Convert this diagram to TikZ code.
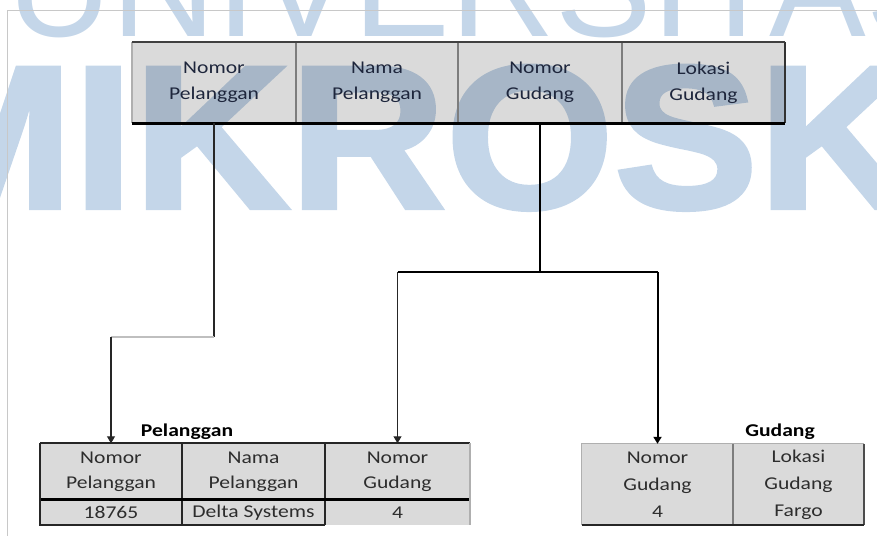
\documentclass[tikz,border=0pt]{standalone}
\usepackage{fontspec}
\setmainfont{Carlito}[FakeStretch=1.2]
\newfontfamily\wmfont{Liberation Sans}
\newfontfamily\wmboldfont{Liberation Sans Bold}[FakeStretch=1.06, FakeBold=2]
\usetikzlibrary{arrows.meta}
\definecolor{wmblue}{RGB}{196,214,233}
\definecolor{txttop}{RGB}{30,38,60}
\definecolor{txtbot}{RGB}{45,45,45}
\definecolor{framegray}{RGB}{200,200,200}
\definecolor{divgray}{RGB}{125,125,125}
\definecolor{lightedge}{RGB}{175,175,175}
\tikzset{
  wm/.style={inner sep=0pt, text=wmblue},
  cellbox/.style={fill=black, fill opacity=0.145, text opacity=1, draw=none, inner sep=0pt, align=center},
  topcell/.style={cellbox, minimum height=81pt, text=txttop, font=\fontsize{18}{26}\selectfont},
  pelcell/.style={cellbox, text=txtbot, font=\fontsize{18}{25}\selectfont},
  gudcell/.style={cellbox, minimum height=81pt, text=txtbot, font=\fontsize{18}{27}\selectfont},
  title/.style={inner sep=0pt, font=\fontsize{18}{22}\selectfont\bfseries, text=black},
  tip/.style={-{Triangle[length=7pt,width=8pt]}},
  thinline/.style={draw=black!85, line width=1.1pt},
  thickline/.style={draw=black, line width=2pt},
  fadeline/.style={draw=black!25, line width=1.2pt},
}
\begin{document}
\begin{tikzpicture}[x=1pt,y=-1pt]
\useasboundingbox (0,0) rectangle (877,536);
% watermark
\node[wm, font=\wmfont\fontsize{145}{145}\selectfont, anchor=base west] (w1) at (7,36) {UNIVERSITAS};
\node[wm, font=\wmboldfont\fontsize{204}{204}\selectfont, anchor=base west] (w2) at (-107,208) {MIKROSKIL};
% frame
\draw[framegray, line width=0.8pt] (877,10.5) -- (7.5,10.5) -- (7.5,536);
% top table
\node[topcell, minimum width=164pt] (t1) at (214,82.5) {Nomor\\Pelanggan};
\node[topcell, minimum width=162pt] (t2) at (377,82.5) {Nama\\Pelanggan};
\node[topcell, minimum width=164pt] (t3) at (540,82.5) {Nomor\\Gudang};
\node[topcell, minimum width=163pt] (t4) at (703.5,82.5) {Lokasi\\Gudang};
\draw[divgray, line width=1.5pt] (t1.north east) -- (t1.south east);
\draw[divgray, line width=1.5pt] (t2.north east) -- (t2.south east);
\draw[divgray, line width=1.5pt] (t3.north east) -- (t3.south east);
\draw[lightedge, line width=1.5pt] (t1.north west) -- (t1.south west);
\draw[black!80, line width=2pt] (t4.north east) -- (t4.south east);
\draw[black!75, line width=2pt] (t1.north west) -- (t4.north east);
\draw[black, line width=3pt] (t1.south west) -- (t4.south east);
% Pelanggan table
\node[title] (tp) at (187,432) {Pelanggan};
\node[pelcell, minimum width=142pt, minimum height=56pt] (p1) at (111,471.5) {Nomor\\Pelanggan};
\node[pelcell, minimum width=143pt, minimum height=56pt] (p2) at (253.5,471.5) {Nama\\Pelanggan};
\node[pelcell, minimum width=145pt, minimum height=56pt] (p3) at (397.5,471.5) {Nomor\\Gudang};
\node[pelcell, minimum width=142pt, minimum height=25pt] (p4) at (111,512.5) {18765};
\node[pelcell, minimum width=143pt, minimum height=25pt] (p5) at (253.5,512.5) {Delta Systems};
\node[pelcell, minimum width=145pt, minimum height=25pt] (p6) at (397.5,512.5) {4};
\draw[black!85, line width=1.5pt] (p1.north east) -- (p4.south east);
\draw[black!85, line width=1.5pt] (p2.north east) -- (p5.south east);
\draw[black, line width=2.5pt] (p1.south west) -- (p3.south east);
\draw[black!85, line width=2pt] (p1.north west) -- (p3.north east);
\draw[black!85, line width=2pt] (p1.north west) -- (p4.south west) -- (p5.south east);
\draw[lightedge, line width=1.5pt] (p3.north east) -- (p6.south east);
% Gudang table
\node[title] (tg) at (780,432) {Gudang};
\node[gudcell, minimum width=151pt] (g1) at (657.5,484.5) {Nomor\\Gudang\\4};
\node[gudcell, minimum width=131pt] (g2) at (798.5,484.5) {Lokasi\\Gudang\\Fargo};
\draw[lightedge, line width=1.2pt] (g1.south west) -- (g1.north west) -- (g2.north east);
\draw[divgray, line width=1.5pt] (g1.north east) -- (g1.south east);
\draw[black!70, line width=1.5pt] (g2.north east) -- (g2.south east);
\draw[black!85, line width=2pt] (g1.south west) -- (g2.south east);
% connectors
\coordinate (k1) at (214,337);
\coordinate (k2) at (111,337);
\coordinate (k3) at (540,272);
\coordinate (k4) at (397.5,272);
\coordinate (k5) at (657.5,272);
\draw[thinline] (t1.south) -- (k1);
\draw[fadeline] (k1) -- (k2);
\draw[thinline, tip] (k2) -- (p1.north);
\draw[thickline] (t3.south) -- (k3);
\draw[thickline, line width=2.5pt] (k4) -- (k5);
\draw[thinline, tip] (k4) -- (p3.north);
\draw[thickline, tip] (k5) -- (g1.north);
\end{tikzpicture}
\end{document}
